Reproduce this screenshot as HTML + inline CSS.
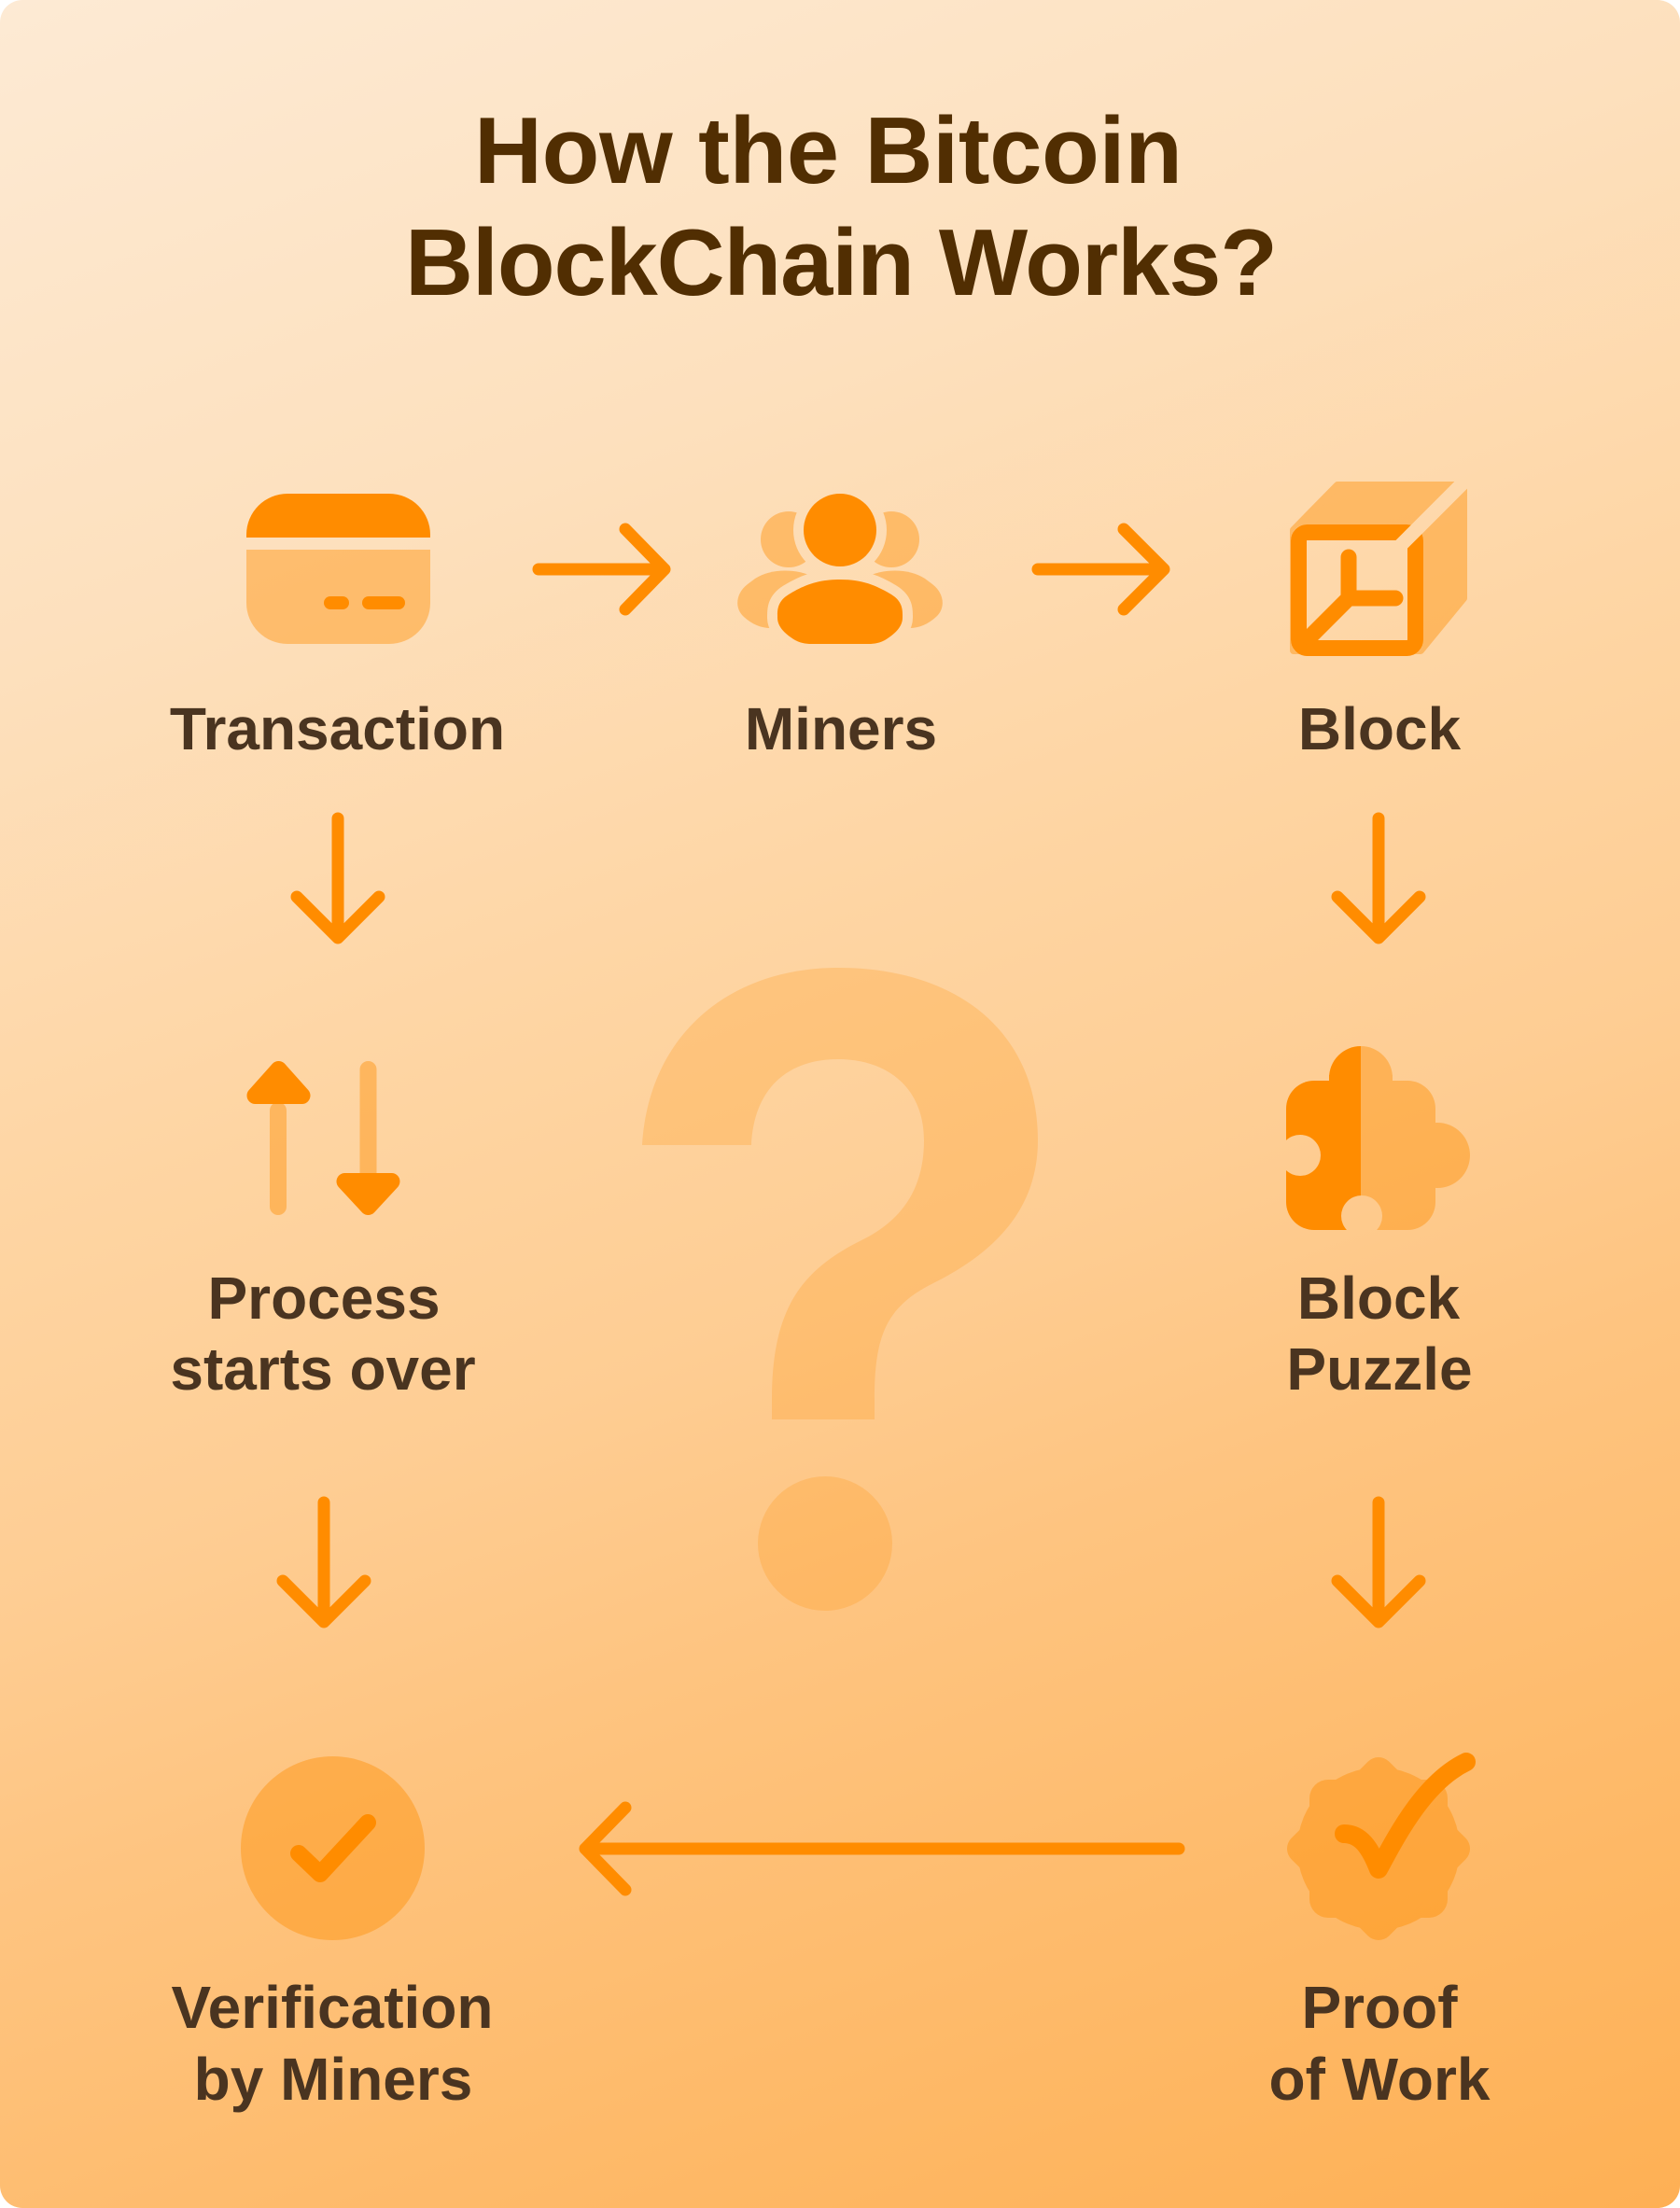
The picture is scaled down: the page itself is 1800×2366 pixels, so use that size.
<!DOCTYPE html>
<html>
<head>
<meta charset="utf-8">
<style>
  html, body { margin:0; padding:0; background:#ffffff; }
  body { width:1800px; height:2366px; overflow:hidden; position:relative; }
  .card {
    position:absolute; left:0; top:0; width:1800px; height:2366px;
    border-radius:24px;
    background: linear-gradient(160deg,
      rgb(253,234,212) 0%,
      rgb(253,224,189) 23.5%,
      rgb(254,213,163) 43%,
      rgb(254,205,147) 57%,
      rgb(254,196,128) 68%,
      rgb(254,187,108) 82%,
      rgb(254,176,84) 100%);
  }
  svg { position:absolute; left:0; top:0; }
  .title { font-family:"Liberation Sans", Arial, sans-serif; font-weight:bold; font-size:101px; fill:#512e02; }
  .lbl { font-family:"Liberation Sans", Arial, sans-serif; font-weight:bold; font-size:64px; fill:#4a3420; }
</style>
</head>
<body>
<div class="card"></div>
<svg width="1800" height="2366" viewBox="0 0 1800 2366" xmlns="http://www.w3.org/2000/svg">
  <defs>
    <clipPath id="cardclip">
      <rect x="264" y="529" width="197" height="161" rx="44"/>
    </clipPath>
    <mask id="mm" maskUnits="userSpaceOnUse" x="0" y="0" width="1800" height="2366">
      <rect x="0" y="0" width="1800" height="2366" fill="#fff"/>
      <circle cx="900" cy="568" r="50" fill="#000"/>
      <path d="M 900 621 C 925 621 940 628 955 637 C 968 645 967 655 967 662 C 967 672 958 680 948 686 C 940 690 935 690 928 690 L 872 690 C 865 690 860 690 852 686 C 842 680 833 672 833 662 C 833 655 832 645 845 637 C 860 628 875 621 900 621 Z" fill="#000" stroke="#000" stroke-width="22" stroke-linejoin="round"/>
    </mask>
    <mask id="bm" maskUnits="userSpaceOnUse" x="0" y="0" width="1800" height="2366">
      <rect x="0" y="0" width="1800" height="2366" fill="#fff"/>
      <line x1="1500" y1="585" x2="1640" y2="445" stroke="#000" stroke-width="15"/>
    </mask>
    <mask id="bm2" maskUnits="userSpaceOnUse" x="0" y="0" width="1800" height="2366">
      <rect x="0" y="0" width="1800" height="2366" fill="#fff"/>
      <rect x="1383" y="562" width="142" height="141" rx="17" fill="#000"/>
      <line x1="1500" y1="585" x2="1640" y2="445" stroke="#000" stroke-width="15"/>
    </mask>
    <mask id="pm" maskUnits="userSpaceOnUse" x="0" y="0" width="1800" height="2366">
      <rect x="0" y="0" width="1800" height="2366" fill="#000"/>
      <rect x="1378" y="1158" width="160" height="160" rx="30" fill="#fff"/>
      <circle cx="1458" cy="1155" r="34" fill="#fff"/>
      <rect x="1424" y="1152" width="68" height="20" fill="#fff"/>
      <circle cx="1540" cy="1238" r="35" fill="#fff"/>
      <circle cx="1393" cy="1238" r="22" fill="#000"/>
      <circle cx="1459" cy="1303" r="22" fill="#000"/>
    </mask>
  </defs>

  <!-- Title -->
  <text class="title" x="508" y="196" textLength="759" lengthAdjust="spacing">How the Bitcoin</text>
  <text class="title" x="434" y="316" textLength="935" lengthAdjust="spacing">BlockChain Works?</text>

  <!-- Big background question mark -->
  <g fill="#ff8c00" opacity="0.22">
    <path d="M 688 1227 C 695 1110 780 1037 898 1037 C 1025 1037 1112 1105 1112 1222 C 1112 1300 1060 1345 1000 1375 C 950 1400 937 1430 937 1500 L 937 1521 L 827 1521 L 827 1500 C 827 1400 860 1360 925 1328 C 965 1308 990 1275 990 1222 C 990 1165 950 1135 898 1135 C 845 1135 808 1165 805 1227 Z"/>
    <circle cx="884" cy="1654" r="72"/>
  </g>

  <!-- Transaction card icon -->
  <g clip-path="url(#cardclip)">
    <rect x="264" y="529" width="197" height="47" fill="#ff8c00"/>
    <rect x="264" y="589" width="197" height="101" fill="#ff8c00" opacity="0.42"/>
  </g>
  <g stroke="#ff8c00" stroke-width="14" stroke-linecap="round">
    <line x1="354" y1="646" x2="367" y2="646"/>
    <line x1="395" y1="646" x2="427" y2="646"/>
  </g>

  <!-- Miners icon -->
  <g mask="url(#mm)">
    <g fill="#ff8c00" opacity="0.42">
      <circle cx="845" cy="578" r="30"/>
      <circle cx="955" cy="578" r="30"/>
      <path d="M 872 618 C 852 609 826 609 809 620 L 801 626 C 789 635 786 651 797 661 C 806 669 815 673 826 673 L 872 673 Z"/>
      <path d="M 928 618 C 948 609 974 609 991 620 L 999 626 C 1011 635 1014 651 1003 661 C 994 669 985 673 974 673 L 928 673 Z"/>
    </g>
  </g>
  <circle cx="900" cy="568" r="39" fill="#ff8c00"/>
  <path d="M 900 621 C 925 621 940 628 955 637 C 968 645 967 655 967 662 C 967 672 958 680 948 686 C 940 690 935 690 928 690 L 872 690 C 865 690 860 690 852 686 C 842 680 833 672 833 662 C 833 655 832 645 845 637 C 860 628 875 621 900 621 Z" fill="#ff8c00"/>

  <!-- Block icon -->
  <g mask="url(#bm2)">
    <g opacity="0.42">
      <path d="M 1386 568 L 1433 520 L 1568 520 L 1568 641 L 1522 697 L 1386 697 Z" fill="#ff8c00" stroke="#ff8c00" stroke-width="8" stroke-linejoin="round"/>
    </g>
  </g>
  <rect x="1391.5" y="570.5" width="125" height="124" rx="9" fill="none" stroke="#ff8c00" stroke-width="17" mask="url(#bm)"/>
  <path d="M 1445 597 L 1445 641 L 1495 641 M 1445 641 L 1403 683" fill="none" stroke="#ff8c00" stroke-width="17" stroke-linecap="round" stroke-linejoin="round"/>

  <!-- Process starts over icon -->
  <g stroke="#ff8c00" stroke-width="18" stroke-linecap="round" opacity="0.42">
    <line x1="298" y1="1190" x2="298" y2="1293"/>
    <line x1="394.5" y1="1146" x2="394.5" y2="1262"/>
  </g>
  <g fill="#ff8c00" stroke="#ff8c00" stroke-width="18" stroke-linejoin="round">
    <path d="M 298.5 1146 L 323.5 1174 L 273.5 1174 Z"/>
    <path d="M 369.5 1266 L 419.5 1266 L 394.5 1293 Z"/>
  </g>

  <!-- Puzzle icon -->
  <g mask="url(#pm)">
    <rect x="1370" y="1110" width="88" height="220" fill="#ff8c00"/>
    <rect x="1458" y="1110" width="130" height="220" fill="#ff8c00" opacity="0.42"/>
  </g>

  <!-- Verification icon -->
  <circle cx="356.5" cy="1980.5" r="98.5" fill="#ff8c00" opacity="0.42"/>
  <polyline points="320,1986 343,2008 394,1953" fill="none" stroke="#ff8c00" stroke-width="18" stroke-linecap="round" stroke-linejoin="round"/>

  <!-- Proof of work icon -->
  <g opacity="0.42" fill="#ff8c00">
    <circle cx="1477" cy="1981" r="87"/>
    <rect x="1403" y="1907" width="148" height="148" rx="20"/>
    <rect x="1403" y="1907" width="148" height="148" rx="16" transform="rotate(45 1477 1981)"/>
  </g>
  <path d="M 1440 1965 C 1458 1965 1468 1980 1477 2003 C 1495 1970 1525 1910 1571 1888" fill="none" stroke="#ff8c00" stroke-width="20" stroke-linecap="round" stroke-linejoin="round"/>

  <!-- Arrows -->
  <g fill="none" stroke="#ff8c00" stroke-width="13" stroke-linecap="round" stroke-linejoin="round">
    <path d="M 577 610 L 712 610 M 670 567 L 712 610 L 670 653"/>
    <path d="M 1112 610 L 1247 610 M 1204 567 L 1247 610 L 1204 653"/>
    <path d="M 362 877 L 362 1005 M 318 961 L 362 1005 L 406 961"/>
    <path d="M 1477 877 L 1477 1005 M 1433 961 L 1477 1005 L 1521 961"/>
    <path d="M 347 1610 L 347 1738 M 303 1694 L 347 1738 L 391 1694"/>
    <path d="M 1477 1610 L 1477 1738 M 1433 1694 L 1477 1738 L 1521 1694"/>
    <path d="M 1263 1981 L 627 1981 M 670 1937 L 627 1981 L 670 2025"/>
  </g>

  <!-- Labels -->
  <text class="lbl" x="361.5" y="803" text-anchor="middle">Transaction</text>
  <text class="lbl" x="901" y="803" text-anchor="middle">Miners</text>
  <text class="lbl" x="1478" y="803" text-anchor="middle">Block</text>

  <text class="lbl" x="347" y="1413" text-anchor="middle">Process</text>
  <text class="lbl" x="346" y="1489" text-anchor="middle">starts over</text>

  <text class="lbl" x="1477" y="1413" text-anchor="middle">Block</text>
  <text class="lbl" x="1478" y="1489" text-anchor="middle">Puzzle</text>

  <text class="lbl" x="356" y="2173" text-anchor="middle">Verification</text>
  <text class="lbl" x="357" y="2250" text-anchor="middle">by Miners</text>

  <text class="lbl" x="1478" y="2173" text-anchor="middle">Proof</text>
  <text class="lbl" x="1478" y="2250" text-anchor="middle">of Work</text>
</svg>
</body>
</html>
